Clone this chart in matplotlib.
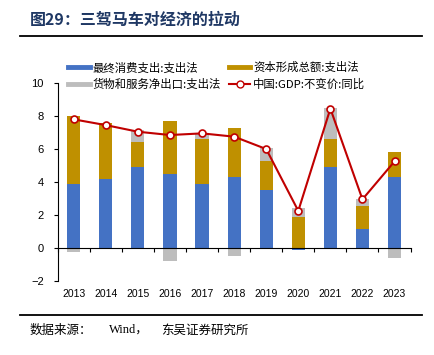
import matplotlib
matplotlib.use("Agg")
import matplotlib.pyplot as plt
from matplotlib.lines import Line2D
import numpy as np

plt.rcParams['font.family'] = ['Liberation Sans', 'Noto Sans CJK SC', 'DejaVu Sans']
plt.rcParams['axes.unicode_minus'] = True

# data (contribution to GDP growth, pct points)
years = ['2013', '2014', '2015', '2016', '2017', '2018', '2019', '2020', '2021', '2022', '2023']
consumption = [3.9, 4.2, 4.9, 4.5, 3.9, 4.3, 3.5, -0.15, 4.9, 1.15, 4.3]
capital = [4.1, 3.35, 1.55, 3.2, 2.7, 2.95, 1.75, 1.85, 1.7, 1.4, 1.55]
net_exports = [-0.25, -0.05, 0.7, -0.8, 0.37, -0.5, 0.8, 0.56, 1.9, 0.4, -0.6]
gdp = [7.8, 7.45, 7.05, 6.85, 6.95, 6.75, 6.0, 2.25, 8.45, 2.95, 5.25]

labels = ['最终消费支出:支出法', '资本形成总额:支出法', '货物和服务净出口:支出法', '中国:GDP:不变价:同比']
colors = ['#4472C4', '#BF9000', '#BDBDBD']
red = '#C00000'

fig = plt.figure(figsize=(4.34, 3.55), dpi=100)
ax = fig.add_axes([0.133, 0.2085, 0.813, 0.5575])

x = np.arange(len(years))
pos_base = np.zeros(len(years))
neg_base = np.zeros(len(years))
for vals, c in zip([consumption, capital, net_exports], colors):
    v = np.array(vals)
    bottom = np.where(v >= 0, pos_base, neg_base)
    ax.bar(x, v, width=0.41, bottom=bottom, color=c, zorder=2)
    pos_base = pos_base + np.where(v >= 0, v, 0)
    neg_base = neg_base + np.where(v < 0, v, 0)

ax.plot(x, gdp, color=red, lw=1.5, marker='o', ms=5, mfc='white', mec=red, mew=1.2, zorder=4)

ax.set_xlim(-0.5, len(years) - 0.5)
ax.set_ylim(-2, 10)
ax.set_yticks([-2, 0, 2, 4, 6, 8, 10])
ax.tick_params(axis='y', length=3, width=0.8, pad=7, labelsize=8, direction='out')
for s in ['top', 'right']:
    ax.spines[s].set_visible(False)
ax.spines['left'].set_linewidth(0.8)
ax.spines['bottom'].set_position(('data', 0))
ax.spines['bottom'].set_linewidth(0.8)
ax.set_xticks(np.arange(-0.5, len(years), 1.0))
ax.set_xticklabels([])
ax.tick_params(axis='x', length=3, width=0.8, direction='out')
for i, yr in enumerate(years):
    ax.text(i, -0.066, yr, transform=ax.get_xaxis_transform(), ha='center', va='center', fontsize=7.5)

handles = [Line2D([], [], color=colors[0], lw=3.5),
           Line2D([], [], color=colors[2], lw=3.5),
           Line2D([], [], color=colors[1], lw=3.5),
           Line2D([], [], color=red, lw=1.5, marker='o', ms=5, mfc='white', mec=red)]
leg = fig.legend(handles, [labels[0], labels[2], labels[1], labels[3]], ncol=2,
                 loc='upper left', bbox_to_anchor=(68 / 434, 1 - 62 / 355), frameon=False,
                 prop={'family': ['Noto Sans CJK SC'], 'size': 8.2},
                 handlelength=1.9, handletextpad=0.25, columnspacing=0.7, labelspacing=0.48,
                 borderpad=0, borderaxespad=0)

# header and footer
fig.text(30 / 434, 1 - 20 / 355, '图29：三驾马车对经济的拉动', fontsize=11.5, fontweight='bold',
         color='#1F3864', family=['Noto Sans CJK SC'], va='center', ha='left')
fig.add_artist(Line2D([20 / 434, 422 / 434], [1 - 36 / 355, 1 - 36 / 355], color='black', lw=1.3))
fig.add_artist(Line2D([20 / 434, 422 / 434], [1 - 315 / 355, 1 - 315 / 355], color='black', lw=1.3))
src_y = 1 - 330 / 355
fig.text(30 / 434, src_y, '数据来源：', fontsize=9, family=['Noto Sans CJK SC'], va='center', ha='left')
fig.text(109 / 434, src_y, 'Wind，', fontsize=9, family=['Liberation Serif', 'Noto Sans CJK SC'],
         va='center', ha='left')
fig.text(161 / 434, src_y, '东吴证券研究所', fontsize=9, family=['Noto Sans CJK SC'], va='center', ha='left')

fig.savefig('out.png', dpi=100)
